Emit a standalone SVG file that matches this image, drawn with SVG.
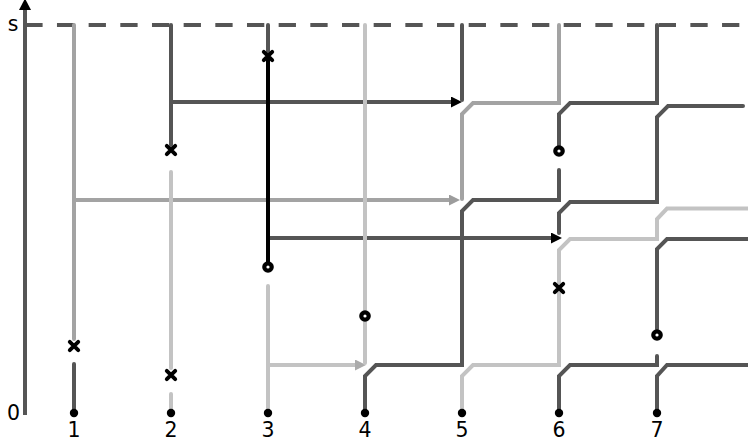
<svg xmlns="http://www.w3.org/2000/svg" width="748" height="444" viewBox="0 0 748 444">
<style>
.ln{fill:none;stroke-width:4;stroke-linecap:round;stroke-linejoin:miter}
.ar{fill:none;stroke-width:4;stroke-linecap:butt}
.dk{stroke:#555555}
.md{stroke:#a3a3a3}
.lt{stroke:#c3c3c3}
.bk{stroke:#000000}
.lbl{font-family:"DejaVu Sans","Liberation Sans",sans-serif;font-size:20.5px;fill:#000}
</style>
<defs>
<marker id="ahB" markerUnits="userSpaceOnUse" markerWidth="11" markerHeight="11" refX="5" refY="5.5" orient="auto"><path d="M0,0 L11,5.5 L0,11 z" fill="#000"/></marker>
<marker id="ahM" markerUnits="userSpaceOnUse" markerWidth="11" markerHeight="11" refX="5" refY="5.5" orient="auto"><path d="M0,0 L11,5.5 L0,11 z" fill="#9c9c9c"/></marker>
<marker id="ahL" markerUnits="userSpaceOnUse" markerWidth="11" markerHeight="11" refX="5" refY="5.5" orient="auto"><path d="M0,0 L11,5.5 L0,11 z" fill="#ababab"/></marker>
<g id="xm"><path d="M-4.2,-4.2 L4.2,4.2 M4.2,-4.2 L-4.2,4.2" stroke="#000" stroke-width="3.9" stroke-linecap="round"/></g>
<g id="om"><circle r="5.8" fill="#000"/><circle r="1.6" fill="#fff"/></g>
<circle id="dot" r="4.2" fill="#000"/>
</defs>

<g id="axis">
<line x1="25" y1="415" x2="25" y2="8" stroke="#555555" stroke-width="4"/>
<path d="M25,-1.5 L31,10 L19,10 z" fill="#000"/>
<line x1="25.3" y1="25" x2="748" y2="25" stroke="#555555" stroke-width="4" stroke-dasharray="17.3 14.37"/>
<text class="lbl" x="13" y="31" text-anchor="middle">s</text>
<text class="lbl" x="13.5" y="420" text-anchor="middle">0</text>
</g>

<g id="connectors">
<path class="ar dk" d="M171,102 H456" marker-end="url(#ahB)"/>
<path class="ar md" d="M74,200 H454" marker-end="url(#ahM)"/>
<path class="ar dk" d="M268,238 H556" marker-end="url(#ahB)"/>
<path class="ar lt" d="M268,365 H360" marker-end="url(#ahL)"/>
</g>

<g id="p1">
<path class="ln md" d="M74,25 V339"/>
<path class="ln dk" d="M74,364 V413"/>
<use href="#xm" x="74" y="346"/>
<use href="#dot" x="74" y="413"/>
<text class="lbl" x="74" y="437" text-anchor="middle">1</text>
</g>

<g id="p2">
<path class="ln dk" d="M171,25 V145"/>
<path class="ln lt" d="M171,172 V368"/>
<path class="ln lt" d="M171,394 V413"/>
<use href="#xm" x="171" y="150"/>
<use href="#xm" x="171" y="375"/>
<use href="#dot" x="171" y="413"/>
<text class="lbl" x="171" y="437" text-anchor="middle">2</text>
</g>

<g id="p3">
<path class="ln dk" d="M268,25 V52"/>
<path class="ln bk" d="M268,58 V262"/>
<path class="ln lt" d="M268,286 V413"/>
<use href="#xm" x="268" y="56"/>
<use href="#om" x="268" y="267"/>
<use href="#dot" x="268" y="413"/>
<text class="lbl" x="268" y="437" text-anchor="middle">3</text>
</g>

<g id="p4">
<path class="ln lt" d="M365,25 V363"/>
<path class="ln dk" d="M365,413 V376 L376,365 H462 V211 L473,200 H559 V170"/>
<use href="#om" x="365" y="316"/>
<use href="#dot" x="365" y="413"/>
<text class="lbl" x="365" y="437" text-anchor="middle">4</text>
</g>

<g id="p5">
<path class="ln dk" d="M462,25 V100"/>
<path class="ln md" d="M559,25 V103 H473 L462,114 V199"/>
<path class="ln lt" d="M462,413 V376 L473,365 H559 V250 L570,239 H657 V219 L667,208.5 H750"/>
<use href="#xm" x="559" y="288"/>
<use href="#dot" x="462" y="413"/>
<text class="lbl" x="462" y="437" text-anchor="middle">5</text>
</g>

<g id="p6">
<path class="ln dk" d="M559,147 V114 L570,103 H657 V25"/>
<path class="ln dk" d="M559,233 V213 L570,202 H657 V117 L668,106 H743"/>
<path class="ln dk" d="M559,413 V376 L570,365 H657 V356"/>
<use href="#om" x="559" y="151"/>
<use href="#dot" x="559" y="413"/>
<text class="lbl" x="559" y="437" text-anchor="middle">6</text>
</g>

<g id="p7">
<path class="ln dk" d="M657,329 V249 L667,239 H750"/>
<path class="ln dk" d="M657,413 V376 L667,365 H750"/>
<use href="#om" x="657" y="335"/>
<use href="#dot" x="657" y="413"/>
<text class="lbl" x="657" y="437" text-anchor="middle">7</text>
</g>
</svg>
